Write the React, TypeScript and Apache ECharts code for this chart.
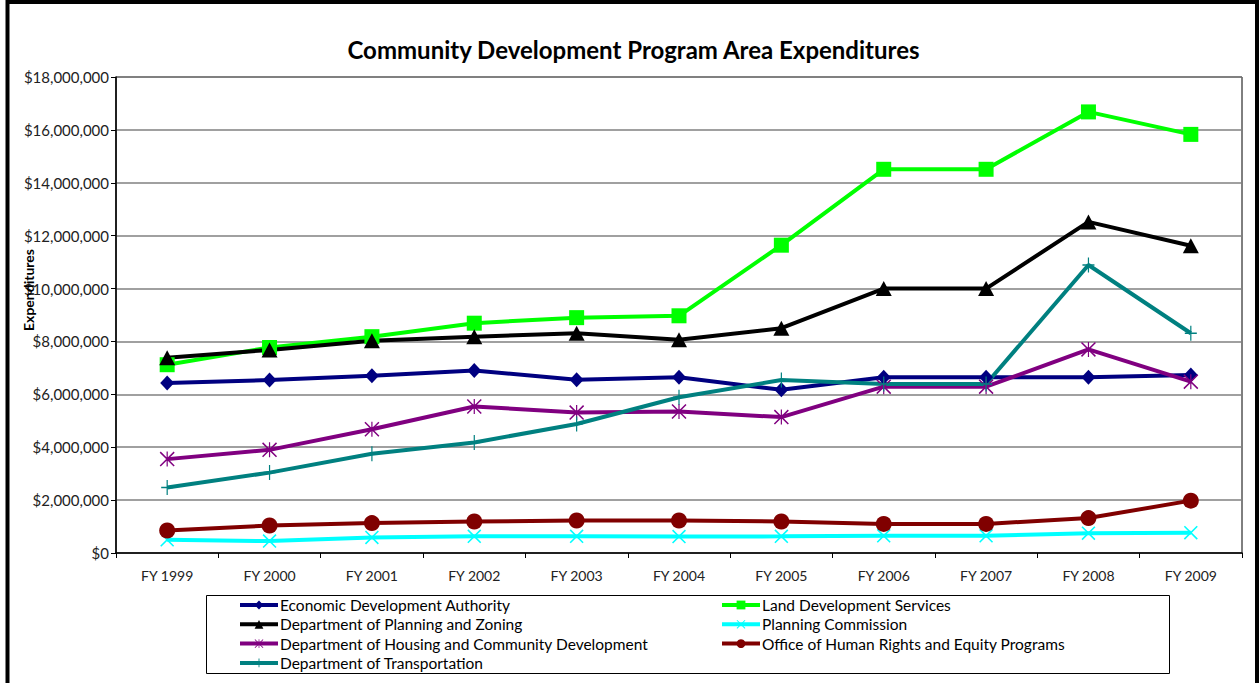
import React, { useEffect, useRef } from "react";
import * as echarts from "echarts";

const categories = ["FY 1999", "FY 2000", "FY 2001", "FY 2002", "FY 2003", "FY 2004", "FY 2005", "FY 2006", "FY 2007", "FY 2008", "FY 2009"];

const economicDev = [6430000, 6540000, 6700000, 6900000, 6550000, 6650000, 6170000, 6650000, 6650000, 6650000, 6730000];
const landDev = [7120000, 7770000, 8180000, 8690000, 8900000, 8970000, 11640000, 14510000, 14510000, 16680000, 15830000];
const planningZoning = [7380000, 7680000, 8030000, 8180000, 8310000, 8060000, 8500000, 10000000, 10000000, 12520000, 11620000];
const planningComm = [500000, 450000, 590000, 630000, 630000, 620000, 630000, 650000, 650000, 750000, 770000];
const housing = [3550000, 3900000, 4680000, 5540000, 5310000, 5350000, 5140000, 6290000, 6290000, 7700000, 6480000];
const humanRights = [850000, 1040000, 1130000, 1190000, 1230000, 1230000, 1190000, 1100000, 1100000, 1320000, 1980000];
const transportation = [2480000, 3040000, 3750000, 4180000, 4880000, 5890000, 6540000, 6390000, 6390000, 10890000, 8310000];

const seriesNames = [
  "Economic Development Authority",
  "Land Development Services",
  "Department of Planning and Zoning",
  "Planning Commission",
  "Department of Housing and Community Development",
  "Office of Human Rights and Equity Programs",
  "Department of Transportation",
];

const yAxisTitle = "Expenditures";

const FONT = "Lato";

const X_PATH = "path://M0,1.6L1.6,0L20,18.4L18.4,20Z M18.4,0L20,1.6L1.6,20L0,18.4Z";
const STAR_PATH = "path://M0,1.4L1.4,0L20,18.6L18.6,20Z M18.6,0L20,1.4L1.4,20L0,18.6Z M9.2,0L10.8,0L10.8,20L9.2,20Z";
const PLUS_PATH = "path://M9,0L11,0L11,20L9,20Z M0,9L20,9L20,11L0,11Z";

export default function App() {
  const ref = useRef<HTMLDivElement>(null);
  useEffect(() => {
    if (!ref.current) return;
    const chart = echarts.init(ref.current, null, { renderer: "svg" });
    const mk = (name: string, data: number[], color: string, symbol: string, size: number | number[]) => ({
      name,
      type: "line",
      data,
      symbol,
      symbolSize: size,
      showAllSymbol: true,
      lineStyle: { color, width: 4 },
      itemStyle: { color },
      emphasis: { disabled: true },
    });
    const legendCommon = {
      orient: "vertical",
      itemWidth: 38,
      itemHeight: 11,
      itemGap: 3.3,
      padding: 0,
      selectedMode: false,
      lineStyle: { width: 4 },
      textStyle: { fontFamily: FONT, fontSize: 15.5, color: "#000", lineHeight: 14, padding: [0, 0, 0, -3] },
    };
    chart.setOption({
      animation: false,
      title: {
        text: "Community Development Program Area Expenditures",
        left: 628.5,
        textAlign: "center",
        top: 32,
        textStyle: { fontFamily: FONT, fontSize: 24, fontWeight: "bold", color: "#000" },
      },
      grid: {
        left: 116,
        top: 77,
        right: 17,
        bottom: 130,
        show: true,
        borderColor: "#000",
        borderWidth: 1,
        backgroundColor: "transparent",
      },
      legend: [
        { ...legendCommon, left: 238, top: 597, data: [seriesNames[0], seriesNames[2], seriesNames[4], seriesNames[6]] },
        { ...legendCommon, left: 720, top: 597, data: [seriesNames[1], seriesNames[3], seriesNames[5]] },
      ],
      xAxis: {
        type: "category",
        data: categories,
        boundaryGap: true,
        axisLine: { lineStyle: { color: "#000", width: 1.5 } },
        axisTick: { show: true, length: 5, lineStyle: { color: "#000" } },
        axisLabel: { fontFamily: FONT, fontSize: 14, color: "#222", margin: 15 },
      },
      yAxis: {
        type: "value",
        min: 0,
        max: 18000000,
        interval: 2000000,
        axisLine: { show: true, lineStyle: { color: "#000", width: 1.5 } },
        axisTick: { show: true, length: 5, lineStyle: { color: "#000" } },
        axisLabel: {
          fontFamily: FONT,
          fontSize: 15,
          color: "#222",
          margin: 7,
          formatter: (v: number) => "$" + v.toLocaleString("en-US"),
        },
        splitLine: { lineStyle: { color: "#808080", width: 1.5 } },
      },
      graphic: [
        {
          type: "rect",
          shape: { x: 7.5, y: 2, width: 1249.5, height: 800 },
          style: { fill: "none", stroke: "#000", lineWidth: 4 },
          silent: true,
        },
        {
          type: "rect",
          shape: { x: 206.5, y: 595.5, width: 963, height: 78 },
          style: { fill: "none", stroke: "#000", lineWidth: 1 },
          silent: true,
          z: -1,
        },
        {
          type: "text",
          x: 28.5,
          y: 290,
          rotation: Math.PI / 2,
          silent: true,
          z: 10,
          style: {
            text: yAxisTitle,
            fontFamily: FONT,
            fontSize: 14,
            fontWeight: "bold",
            fill: "#000",
            align: "center",
            verticalAlign: "middle",
          },
        },
      ],
      series: [
        mk(seriesNames[0], economicDev, "#000080", "diamond", [14, 15]),
        mk(seriesNames[1], landDev, "#00FF00", "rect", 15),
        mk(seriesNames[2], planningZoning, "#000000", "triangle", [16, 15]),
        mk(seriesNames[3], planningComm, "#00FFFF", X_PATH, 14),
        mk(seriesNames[4], housing, "#800080", STAR_PATH, 15),
        mk(seriesNames[5], humanRights, "#800000", "circle", 16),
        mk(seriesNames[6], transportation, "#008080", PLUS_PATH, [12, 15]),
      ],
    });
    return () => chart.dispose();
  }, []);
  return (
    <div
      ref={ref}
      style={{ position: "absolute", left: 0, top: 0, width: 1259, height: 683, background: "#fff" }}
    />
  );
}
